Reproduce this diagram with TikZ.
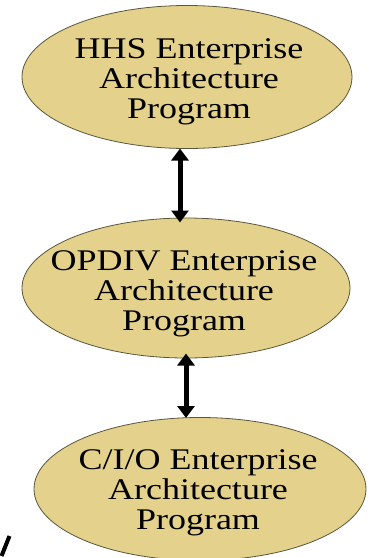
\documentclass[tikz,border=0pt]{standalone}
\usepackage{fontspec}
\setmainfont{Liberation Serif}
\usetikzlibrary{shapes.geometric,arrows.meta}
\definecolor{tan}{RGB}{228,210,140}
\definecolor{edge}{RGB}{90,85,60}
\newcommand{\eatext}[1]{\scalebox{1.2}[1]{\fontsize{30}{30}\selectfont\begin{tabular}{@{}c@{}}#1\end{tabular}}}
\tikzset{
  eaell/.style={ellipse, draw=edge, line width=0.8pt, fill=tan, inner sep=0pt},
  ealbl/.style={inner sep=0pt, text=black},
  biarrow/.style={line width=5pt, {Triangle[length=12pt,width=17pt]}-{Triangle[length=12pt,width=17pt]}, shorten <=0pt, shorten >=0pt},
}
\begin{document}
\begin{tikzpicture}[x=1pt,y=-1pt]
\useasboundingbox (0,0) rectangle (370,558);
\node[eaell, minimum width=330pt, minimum height=143pt] (e1) at (187,77) {};
\node[eaell, minimum width=328pt, minimum height=140pt] (e2) at (186,288) {};
\node[eaell, minimum width=332pt, minimum height=143pt] (e3) at (200,489) {};
\node[ealbl] (t1) at (189,82) {\eatext{HHS Enterprise\\Architecture\\Program}};
\node[ealbl] (t2) at (184,294) {\eatext{OPDIV Enterprise\\Architecture\\Program}};
\node[ealbl] (t3) at (198,493) {\eatext{C/I/O Enterprise\\Architecture\\Program}};
\coordinate (a1s) at (180,148.5);
\coordinate (a1e) at (180,222.5);
\coordinate (a2s) at (186,353.5);
\coordinate (a2e) at (186,418);
\draw[biarrow] (a1s) -- (a1e);
\draw[biarrow] (a2s) -- (a2e);
\coordinate (s1) at (9.5,536);
\coordinate (s2) at (1.5,556);
\draw[line width=4pt] (s1) -- (s2);
\end{tikzpicture}
\end{document}
